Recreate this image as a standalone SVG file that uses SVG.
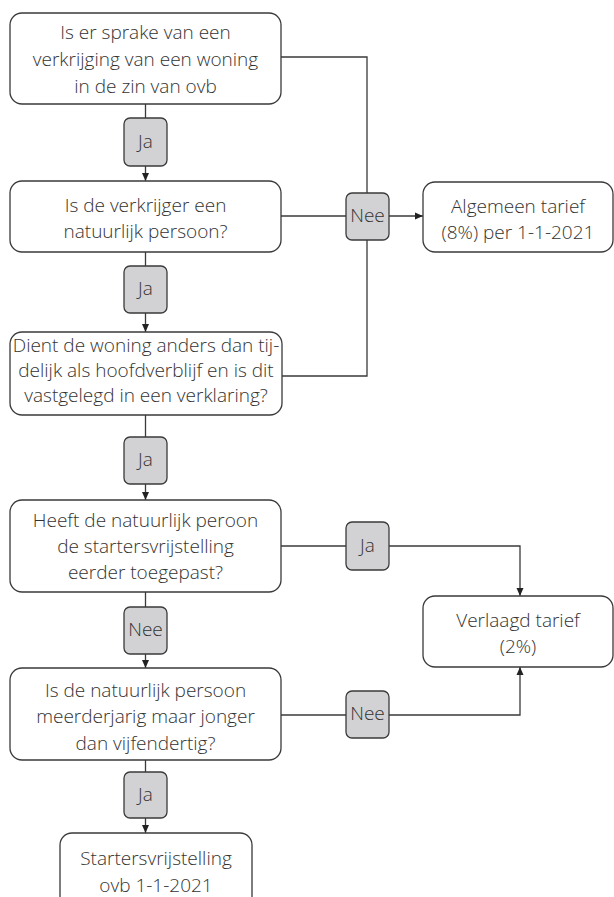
<svg xmlns="http://www.w3.org/2000/svg" width="614" height="897" viewBox="0 0 614 897">
<style>
.box{fill:#fff;stroke:#3a3a3a;stroke-width:1.3}
.lab{fill:#d2d2d4;stroke:#3a3a3a;stroke-width:1.3}
.t{font-family:"Open Sans","Liberation Sans",sans-serif;font-weight:300;font-size:19px;fill:#333;text-anchor:middle}
.c{fill:none;stroke:#3a3a3a;stroke-width:1.3}
</style>
<defs>
<marker id="ah" markerWidth="8" markerHeight="8" viewBox="0 0 8 8" refX="8" refY="4" orient="auto" markerUnits="userSpaceOnUse">
<path d="M0,0.5 L8,4 L0,7.5 Z" fill="#222"/>
</marker>
</defs>
<rect width="614" height="897" fill="#fff"/>
<g id="connectors">
<path class="c" d="M145.5,104 V118"/>
<path class="c" d="M145.5,166 V181" marker-end="url(#ah)"/>
<path class="c" d="M145.5,252 V266"/>
<path class="c" d="M145.5,313 V332" marker-end="url(#ah)"/>
<path class="c" d="M145.5,415 V437"/>
<path class="c" d="M145.5,484 V500" marker-end="url(#ah)"/>
<path class="c" d="M145.5,592 V607"/>
<path class="c" d="M145.5,654 V668" marker-end="url(#ah)"/>
<path class="c" d="M145.5,760 V772"/>
<path class="c" d="M145.5,818 V833" marker-end="url(#ah)"/>
<path class="c" d="M281,57 H367 V193"/>
<path class="c" d="M281,216 H346"/>
<path class="c" d="M282,376 H367 V240"/>
<path class="c" d="M389,216 H423" marker-end="url(#ah)"/>
<path class="c" d="M281,546 H346"/>
<path class="c" d="M389,546 H520 V596" marker-end="url(#ah)"/>
<path class="c" d="M281,715 H346"/>
<path class="c" d="M389,715 H520 V667" marker-end="url(#ah)"/>
</g>
<g id="q1">
<rect class="box" x="10" y="13" width="271" height="91" rx="12"/>
<text class="t" x="145.5" y="39">Is er sprake van een</text>
<text class="t" x="145.5" y="66">verkrijging van een woning</text>
<text class="t" x="145.5" y="93">in de zin van ovb</text>
</g>
<g id="q2">
<rect class="box" x="10" y="181" width="271" height="71" rx="12"/>
<text class="t" x="145.5" y="212">Is de verkrijger een</text>
<text class="t" x="145.5" y="238">natuurlijk persoon?</text>
</g>
<g id="q3">
<rect class="box" x="10" y="332" width="272" height="83" rx="12"/>
<text class="t" x="146" y="352">Dient de woning anders dan tij-</text>
<text class="t" x="146" y="377">delijk als hoofdverblijf en is dit</text>
<text class="t" x="146" y="402">vastgelegd in een verklaring?</text>
</g>
<g id="q4">
<rect class="box" x="10" y="500" width="271" height="92" rx="12"/>
<text class="t" x="145.5" y="527">Heeft de natuurlijk peroon</text>
<text class="t" x="145.5" y="553">de startersvrijstelling</text>
<text class="t" x="145.5" y="579">eerder toegepast?</text>
</g>
<g id="q5">
<rect class="box" x="10" y="668" width="271" height="92" rx="12"/>
<text class="t" x="145.5" y="697">Is de natuurlijk persoon</text>
<text class="t" x="145.5" y="723">meerderjarig maar jonger</text>
<text class="t" x="145.5" y="750">dan vijfendertig?</text>
</g>
<g id="r-startersvrijstelling">
<rect class="box" x="60" y="833" width="192" height="80" rx="12"/>
<text class="t" x="156" y="865">Startersvrijstelling</text>
<text class="t" x="156" y="892">ovb 1-1-2021</text>
</g>
<g id="r-algemeen">
<rect class="box" x="423" y="182" width="190" height="70" rx="12"/>
<text class="t" x="518" y="213">Algemeen tarief</text>
<text class="t" x="518" y="239">(8%) per 1-1-2021</text>
</g>
<g id="r-verlaagd">
<rect class="box" x="423" y="596" width="190" height="71" rx="12"/>
<text class="t" x="518" y="627">Verlaagd tarief</text>
<text class="t" x="518" y="653">(2%)</text>
</g>
<g id="l-ja1"><rect class="lab" x="124" y="118" width="43" height="48" rx="6"/><text class="t" x="145.5" y="148">Ja</text></g>
<g id="l-ja2"><rect class="lab" x="124" y="266" width="43" height="47" rx="6"/><text class="t" x="145.5" y="295">Ja</text></g>
<g id="l-ja3"><rect class="lab" x="124" y="437" width="43" height="47" rx="6"/><text class="t" x="145.5" y="466">Ja</text></g>
<g id="l-nee4"><rect class="lab" x="124" y="607" width="43" height="47" rx="6"/><text class="t" x="145.5" y="636">Nee</text></g>
<g id="l-ja5"><rect class="lab" x="124" y="772" width="43" height="46" rx="6"/><text class="t" x="145.5" y="801">Ja</text></g>
<g id="l-nee-alg"><rect class="lab" x="346" y="193" width="43" height="47" rx="6"/><text class="t" x="367.5" y="222">Nee</text></g>
<g id="l-ja-verl"><rect class="lab" x="346" y="522" width="43" height="48" rx="6"/><text class="t" x="367.5" y="552">Ja</text></g>
<g id="l-nee-verl"><rect class="lab" x="346" y="691" width="43" height="47" rx="6"/><text class="t" x="367.5" y="720">Nee</text></g>
</svg>
